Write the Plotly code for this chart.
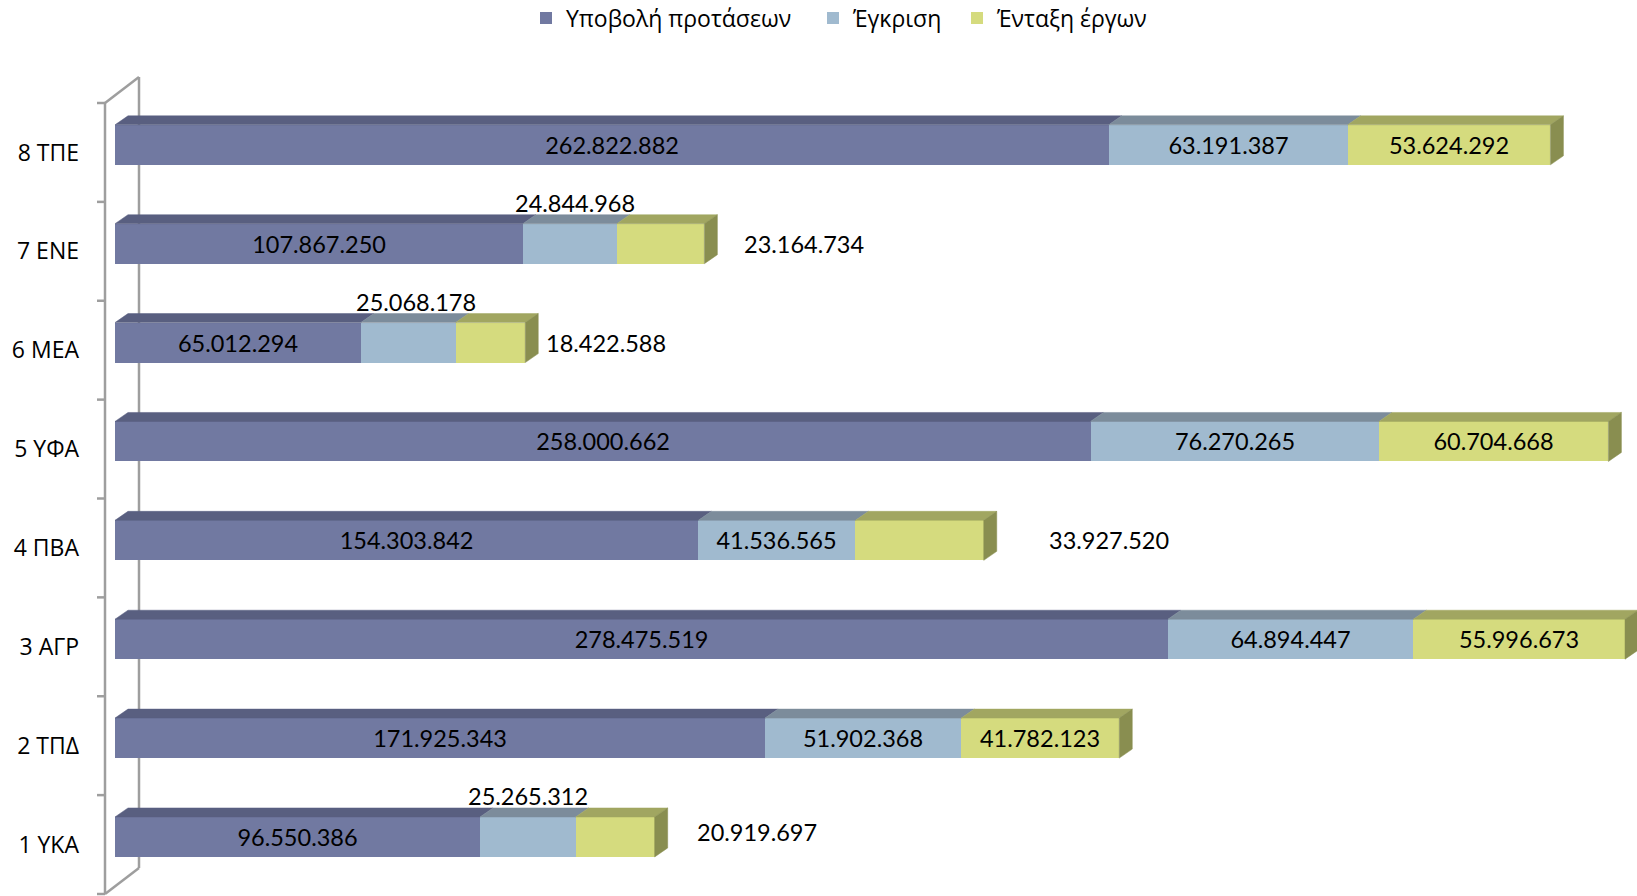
import plotly.graph_objects as go

# ---------------- data ----------------
categories = ["1 ΥΚΑ", "2 ΤΠΔ", "3 ΑΓΡ", "4 ΠΒΑ", "5 ΥΦΑ", "6 ΜΕΑ", "7 ΕΝΕ", "8 ΤΠΕ"]
series_names = ["Υποβολή προτάσεων", "Έγκριση", "Ένταξη έργων"]
submission = [96550386, 171925343, 278475519, 154303842, 258000662, 65012294, 107867250, 262822882]
approval = [25265312, 51902368, 64894447, 41536565, 76270265, 25068178, 24844968, 63191387]
inclusion = [20919697, 41782123, 55996673, 33927520, 60704668, 18422588, 23164734, 53624292]
series_values = [submission, approval, inclusion]

# ---------------- style ----------------
front_colors = ["#7179A1", "#A0BACF", "#D5DB7E"]
top_colors = ["#595F80", "#7C8C9B", "#A1A661"]
side_colors = ["#4E5470", "#6E7D8A", "#898E50"]
wall_color = "#9E9E9E"
num_font = dict(family="Lato, Open Sans, sans-serif", size=23.5, color="black")
cat_font = dict(family="Open Sans, Noto Sans, sans-serif", size=23, color="black")
legend_font = dict(family="Open Sans, Noto Sans, sans-serif", size=23, color="black")

# placement of labels that do not sit inside their bar segment: (category index, series index) -> (mode, xshift, yshift)
outside_labels = {
    (6, 1): ("above", 5, 0), (6, 2): ("right", 38, 0),
    (5, 1): ("above", 8, 0), (5, 2): ("right", 19, 0),
    (0, 1): ("above", 0, 0), (0, 2): ("right", 40, 5),
    (3, 2): ("right", 63, 0),
}
# legend text start positions (screen pixels)
legend_text_px = [566, 853, 997]
LEGEND_TEXT_OFFSET = 40
LEGEND_Y_PX = 18

# ---------------- geometry (screen pixels) ----------------
SW, SH = 1637, 896
PL, PR, PT, PB = 95, 1637, 60, 896
X0PX = 115.0
KX = 3.781 / 1e6
BAND_TOP, BAND_BOT = 103.0, 894.0
BAND = (BAND_BOT - BAND_TOP) / 8
BAR_H = 40.0
BAR_UP = 7.6
DX, DY = 13.0, 9.0
WALL_DX, WALL_DY = 34.0, 26.0


def xd(px):
    return (px - X0PX) / KX


def yd(py):
    return (BAND_BOT - py) / BAND - 0.5


def fmt(v):
    return f"{v:,}".replace(",", ".")


n = len(categories)
ypos = [i + BAR_UP / BAND for i in range(n)]
bw = BAR_H / BAND
dxd = DX / KX
dyd = DY / BAND

fig = go.Figure()
legend_ids = ["legend", "legend2", "legend3"]
for s, (name, vals) in enumerate(zip(series_names, series_values)):
    texts = ["" if (i, s) in outside_labels else fmt(v) for i, v in enumerate(vals)]
    fig.add_trace(go.Bar(
        y=ypos, x=vals, name=name, orientation="h", width=bw,
        marker=dict(color=front_colors[s], line=dict(width=0)),
        text=texts, textposition="inside", insidetextanchor="middle",
        textangle=0, constraintext="none",
        textfont=num_font, insidetextfont=num_font,
        hoverinfo="skip", legend=legend_ids[s],
    ))

shapes = []
annotations = []

# wall lines (behind bars)
fx, bx = xd(105), xd(105 + WALL_DX)
wl = dict(color=wall_color, width=2.5)
shapes.append(dict(type="line", xref="x", yref="y", x0=fx, x1=fx, y0=yd(BAND_TOP), y1=yd(BAND_BOT),
                   line=wl, layer="below"))
shapes.append(dict(type="line", xref="x", yref="y", x0=bx, x1=bx, y0=yd(BAND_TOP - WALL_DY), y1=yd(BAND_BOT - WALL_DY),
                   line=wl, layer="below"))
for yb in (BAND_TOP, BAND_BOT):
    shapes.append(dict(type="line", xref="x", yref="y", x0=fx, x1=bx, y0=yd(yb), y1=yd(yb - WALL_DY),
                       line=wl, layer="below"))
for k in range(n + 1):
    yy = yd(BAND_TOP + k * BAND)
    shapes.append(dict(type="line", xref="x", yref="y", x0=xd(97), x1=fx, y0=yy, y1=yy,
                       line=wl, layer="below"))

# 3D faces and outside labels
for i in range(n):
    yc = ypos[i]
    yt = yc + bw / 2
    yb = yc - bw / 2
    cum = 0
    for s, vals in enumerate(series_values):
        x0 = cum
        x1 = cum + vals[i]
        path = f"M{x0},{yt} L{x1},{yt} L{x1 + dxd},{yt + dyd} L{x0 + dxd},{yt + dyd} Z"
        shapes.append(dict(type="path", xref="x", yref="y", path=path,
                           fillcolor=top_colors[s], line=dict(color=top_colors[s], width=0.5), layer="above"))
        if (i, s) in outside_labels and outside_labels[(i, s)][0] == "above":
            _, xs, ys = outside_labels[(i, s)]
            annotations.append(dict(x=(x0 + x1) / 2, y=yt, xref="x", yref="y", text=fmt(vals[i]),
                                    showarrow=False, xanchor="center", yanchor="middle",
                                    xshift=xs, yshift=21 + ys, font=num_font))
        cum = x1
    path = f"M{cum},{yb} L{cum},{yt} L{cum + dxd},{yt + dyd} L{cum + dxd},{yb + dyd} Z"
    shapes.append(dict(type="path", xref="x", yref="y", path=path,
                       fillcolor=side_colors[2], line=dict(color=side_colors[2], width=0.5), layer="above"))
    for s in range(3):
        if (i, s) in outside_labels and outside_labels[(i, s)][0] == "right":
            _, xs, ys = outside_labels[(i, s)]
            annotations.append(dict(x=cum, y=yc, xref="x", yref="y", text=fmt(series_values[s][i]),
                                    showarrow=False, xanchor="left", yanchor="middle",
                                    xshift=xs, yshift=ys, font=num_font))

legends = {}
for s, lid in enumerate(legend_ids):
    left_px = legend_text_px[s] - LEGEND_TEXT_OFFSET
    legends[lid] = dict(orientation="h", x=(left_px - PL) / (PR - PL), xanchor="left",
                        y=(PB - LEGEND_Y_PX) / (PB - PT), yanchor="middle",
                        font=legend_font, itemwidth=30, bgcolor="rgba(0,0,0,0)", borderwidth=0)

fig.update_layout(
    width=SW, height=SH, autosize=False,
    margin=dict(l=PL, r=SW - PR, t=PT, b=SH - PB, pad=0, autoexpand=False),
    plot_bgcolor="white", paper_bgcolor="white",
    barmode="stack", bargap=0,
    shapes=shapes, annotations=annotations,
    showlegend=True,
    xaxis=dict(range=[xd(PL), xd(PR)], visible=False, showgrid=False, zeroline=False),
    yaxis=dict(range=[yd(PB), yd(PT)], tickvals=list(range(n)), ticktext=categories,
               tickfont=cat_font, showgrid=False, zeroline=False, showline=False, ticks="",
               ticklabelstandoff=15),
    **legends,
)

fig.write_html("out.html", config={"displayModeBar": False},
               post_script="document.body.style.margin='0px'; document.body.style.overflow='hidden';")
